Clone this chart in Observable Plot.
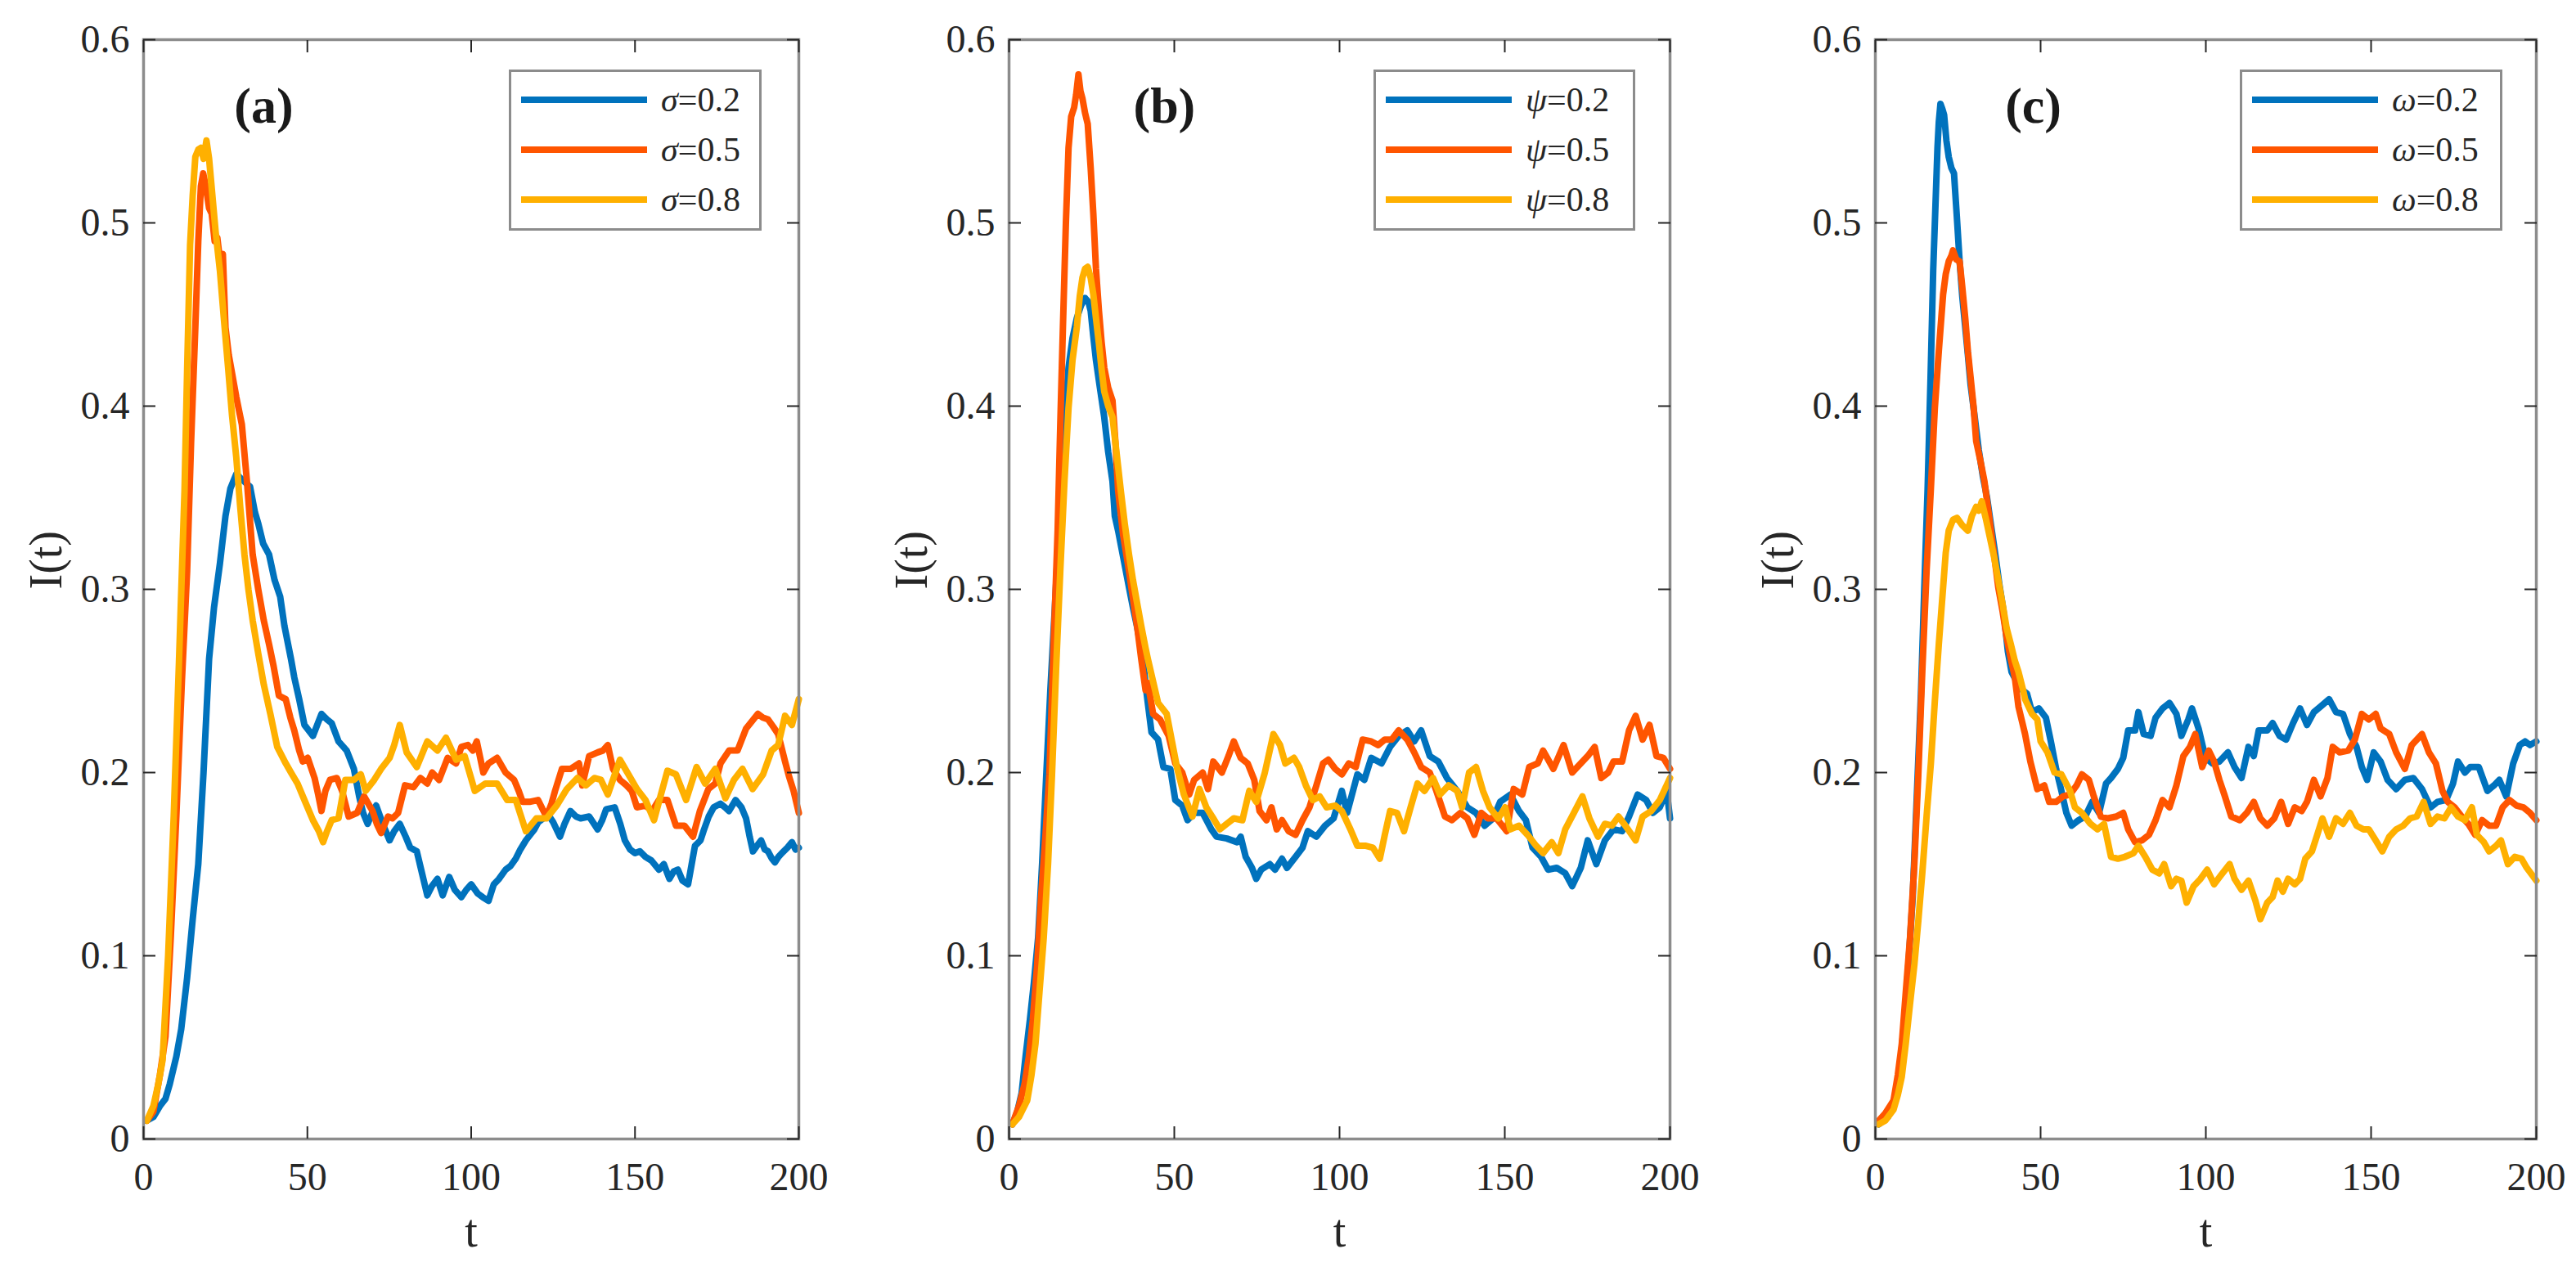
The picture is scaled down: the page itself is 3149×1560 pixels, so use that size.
<!DOCTYPE html>
<html>
<head>
<meta charset="utf-8">
<script src="https://cdn.jsdelivr.net/npm/d3@7"></script>
<script src="https://cdn.jsdelivr.net/npm/@observablehq/plot@0.6"></script>
<style>
  html, body { margin: 0; padding: 0; background: #fff; overflow: hidden; }
  #wrap { position: relative; width: 3149px; height: 1560px; }
  .panel { position: absolute; top: 0; }
  .legend { position: absolute; box-sizing: border-box; border: 3px solid #8c8c8c; background: #fff; }
  .legend svg { display: block; }
</style>
</head>
<body>
<div id="wrap"></div>
<script>
// ---------- tick labels / categories ----------
const xTicks = [0, 50, 100, 150, 200];
const yTicks = [0, 0.1, 0.2, 0.3, 0.4, 0.5, 0.6];
const panelLabels = ["(a)", "(b)", "(c)"];
const paramSymbols = ["σ", "ψ", "ω"];
const paramValues = ["0.2", "0.5", "0.8"];
const seriesColors = ["#0072BD", "#FF5500", "#FFB000"];
const panelLabelT = [36.7, 47.0, 47.8];   // label anchor (t) per panel
const panelLabelI = 0.5545;               // label baseline (I)

// ---------- data: [t, I(t)] ----------
const aBlue = [[1,0.010],[3,0.012],[5,0.018],[6.7,0.022],[8,0.03],[10,0.045],[11.5,0.06],[13.3,0.088],[15,0.12],[16.7,0.15],[18.3,0.2],[20,0.262],[21.5,0.29],[23.3,0.314],[25,0.34],[26.5,0.355],[28.3,0.363],[30,0.36],[32.5,0.356],[34,0.342],[35,0.336],[36.5,0.325],[38.3,0.319],[40,0.305],[41.7,0.296],[43,0.28],[45,0.262],[46,0.252],[47.5,0.24],[49.1,0.226],[51.7,0.220],[54.3,0.232],[56,0.229],[57.4,0.227],[59.5,0.217],[62,0.212],[64.2,0.202],[65.8,0.187],[67,0.178],[68.4,0.172],[70,0.179],[71,0.182],[73,0.172],[75.1,0.163],[76.5,0.168],[78.2,0.172],[80,0.165],[81.4,0.159],[83.4,0.157],[85,0.145],[86.6,0.133],[88,0.138],[89.7,0.142],[91.3,0.133],[93.3,0.143],[95,0.136],[97,0.132],[98.5,0.136],[100,0.139],[102,0.134],[103.5,0.132],[105.3,0.130],[106.9,0.139],[108.5,0.142],[110.5,0.147],[112,0.149],[113.6,0.153],[115,0.158],[116.7,0.163],[118,0.166],[119.3,0.169],[120.5,0.173],[122,0.175],[123.5,0.177],[125,0.173],[127.1,0.165],[128.5,0.172],[130.3,0.179],[132,0.176],[133.4,0.175],[136,0.176],[137.5,0.172],[138.6,0.169],[140,0.174],[141.2,0.180],[143.8,0.181],[145.5,0.172],[146.9,0.163],[148.5,0.158],[150,0.156],[151.5,0.157],[153.2,0.154],[155,0.152],[157.3,0.147],[158.8,0.150],[160.5,0.142],[161.8,0.146],[163.1,0.147],[164.5,0.141],[166.2,0.139],[167.3,0.150],[168.3,0.160],[170,0.163],[170.9,0.168],[172.5,0.176],[174,0.181],[176.1,0.183],[177.5,0.181],[178.7,0.179],[180.7,0.185],[182.5,0.181],[183.9,0.175],[185,0.165],[186,0.157],[187.2,0.160],[188.5,0.163],[189.6,0.158],[190.6,0.157],[191.8,0.153],[192.7,0.151],[193.8,0.154],[194.8,0.156],[196.5,0.159],[197.9,0.162],[199,0.158],[200,0.159]];
const aOrange = [[1,0.010],[3,0.015],[5,0.035],[6.7,0.056],[8.3,0.11],[10,0.176],[11.7,0.25],[13.3,0.31],[14.5,0.38],[15.8,0.443],[16.7,0.49],[17.5,0.52],[18.2,0.527],[19,0.52],[20,0.508],[20.8,0.505],[21.7,0.49],[22.5,0.492],[23.3,0.48],[24.2,0.483],[25,0.443],[26,0.428],[26.7,0.421],[28.3,0.405],[30,0.39],[31.5,0.36],[33.3,0.319],[35,0.3],[36.7,0.283],[38.3,0.27],[39.7,0.258],[41.3,0.242],[43.4,0.240],[44.8,0.23],[46,0.223],[47.5,0.212],[48.6,0.206],[50.1,0.208],[52.2,0.197],[53.3,0.188],[54.3,0.179],[55.5,0.19],[56.9,0.196],[59,0.197],[60.6,0.190],[62.6,0.176],[65.2,0.178],[67.3,0.187],[69.9,0.179],[71.2,0.172],[72.5,0.167],[74.6,0.176],[76,0.175],[77.7,0.178],[79.8,0.193],[82.4,0.192],[84.5,0.197],[86.6,0.194],[88.1,0.200],[90.2,0.196],[92.8,0.208],[95.4,0.205],[97,0.214],[99,0.215],[100.5,0.212],[101.7,0.217],[103.7,0.200],[105.3,0.205],[107.9,0.208],[110.5,0.200],[113.1,0.196],[114.5,0.19],[115.7,0.184],[117.8,0.184],[120.4,0.185],[121.8,0.18],[123,0.176],[124.5,0.183],[125.6,0.190],[127.7,0.202],[130.3,0.202],[132.9,0.205],[133.9,0.193],[136,0.209],[138.6,0.211],[140.2,0.212],[141.7,0.215],[143.3,0.202],[145.4,0.196],[147.4,0.193],[149,0.19],[150.6,0.181],[153.2,0.182],[155.2,0.179],[157.3,0.185],[159.9,0.185],[161.2,0.178],[162.5,0.171],[165.1,0.171],[167.7,0.165],[169.8,0.179],[172.4,0.191],[174.5,0.194],[176.1,0.205],[178.7,0.212],[181.3,0.212],[183.9,0.224],[185.7,0.228],[187.5,0.232],[189,0.230],[190.6,0.229],[192.2,0.225],[193.7,0.221],[195.8,0.206],[197,0.198],[198.4,0.190],[200,0.178]];
const aYellow = [[1,0.010],[3,0.018],[4.5,0.03],[5.8,0.043],[7.5,0.1],[9.2,0.176],[10.8,0.26],[12.5,0.354],[13.3,0.42],[14.2,0.488],[15,0.515],[15.8,0.536],[16.7,0.54],[17.5,0.541],[18.3,0.535],[19.2,0.545],[20,0.535],[20.8,0.519],[22,0.495],[23.3,0.474],[24.5,0.448],[25.8,0.421],[27,0.395],[28.3,0.372],[29.5,0.345],[30.8,0.319],[32,0.3],[33.3,0.283],[35,0.265],[36.7,0.248],[38.7,0.232],[40.8,0.214],[43.4,0.205],[45,0.200],[47,0.194],[49.1,0.185],[51.7,0.174],[53.5,0.168],[54.8,0.162],[56,0.168],[57.4,0.174],[59.5,0.175],[61.6,0.196],[64.2,0.196],[66.3,0.199],[67.8,0.190],[70.4,0.196],[72.5,0.202],[75.1,0.208],[76.5,0.215],[78.2,0.226],[80.3,0.211],[83.4,0.203],[86.6,0.217],[89.7,0.212],[92.3,0.219],[95.4,0.207],[98,0.209],[101.1,0.190],[104.3,0.194],[107.9,0.194],[111,0.185],[113.6,0.185],[116.7,0.168],[119.9,0.175],[123,0.175],[126.1,0.182],[129.2,0.191],[132.4,0.197],[135,0.193],[137.6,0.197],[139.6,0.196],[141.7,0.188],[145.4,0.207],[148,0.199],[150.6,0.191],[153.2,0.185],[155.8,0.174],[157.3,0.184],[159.9,0.201],[162.5,0.199],[165.6,0.185],[168.8,0.203],[171.4,0.194],[174.5,0.202],[177.6,0.186],[180.2,0.196],[182.8,0.202],[185.9,0.191],[189.1,0.199],[191.7,0.212],[193.7,0.215],[195.8,0.231],[197.9,0.226],[200,0.240]];

const bBlue = [[1,0.008],[2.5,0.015],[3.8,0.025],[5,0.045],[6.3,0.065],[7.5,0.085],[8.8,0.11],[10,0.15],[11.3,0.2],[12.5,0.245],[13.8,0.288],[15,0.33],[16.3,0.372],[17.2,0.4],[18,0.421],[19.2,0.437],[20.5,0.448],[21.8,0.455],[23,0.459],[24,0.457],[24.7,0.452],[25.5,0.438],[26.3,0.425],[27.5,0.41],[28.8,0.394],[30,0.375],[31.3,0.359],[32,0.34],[33,0.332],[34.5,0.318],[36.3,0.301],[37.5,0.29],[38.8,0.279],[40.5,0.262],[41.5,0.245],[43.1,0.222],[45.1,0.218],[46.7,0.203],[48.8,0.202],[50.3,0.185],[52.4,0.182],[54,0.174],[56.1,0.178],[58.6,0.178],[61.2,0.169],[62.8,0.165],[65.9,0.164],[69,0.162],[70.1,0.165],[71.6,0.154],[73.5,0.148],[74.8,0.142],[76.3,0.147],[78.9,0.150],[80.5,0.147],[82.6,0.153],[84.1,0.148],[86.7,0.154],[88.8,0.159],[90.4,0.168],[93,0.165],[95.6,0.171],[98.2,0.175],[100.7,0.190],[102.3,0.178],[105.4,0.199],[107.5,0.196],[109.6,0.208],[112.7,0.205],[115.3,0.214],[117.9,0.220],[120.5,0.223],[122.6,0.217],[124.7,0.223],[127.3,0.209],[129.9,0.206],[132.5,0.197],[135.6,0.190],[138.7,0.181],[141.3,0.178],[143.9,0.171],[146.5,0.175],[148.6,0.184],[151.7,0.188],[154.3,0.179],[156.4,0.174],[158.4,0.159],[161,0.154],[163.1,0.147],[165.7,0.148],[168.3,0.145],[170.4,0.138],[173,0.148],[175.1,0.163],[177.7,0.150],[180.3,0.163],[182.9,0.169],[185.5,0.168],[187.6,0.176],[190.2,0.188],[192.8,0.185],[194.8,0.178],[196.9,0.181],[199,0.190],[200,0.175]];
const bOrange = [[1,0.008],[3,0.018],[4.7,0.03],[6,0.045],[7.2,0.065],[8.5,0.095],[9.7,0.132],[11,0.165],[12.2,0.199],[13.5,0.27],[14.7,0.332],[15.5,0.39],[16.3,0.443],[17.2,0.5],[18,0.541],[18.8,0.558],[19.7,0.563],[20.3,0.57],[21,0.581],[21.6,0.572],[22.2,0.568],[23,0.56],[23.8,0.554],[24.7,0.53],[25.5,0.505],[26.3,0.475],[27.2,0.452],[28,0.435],[28.8,0.421],[30,0.41],[31.3,0.403],[32.2,0.38],[33,0.354],[34.5,0.33],[36.3,0.31],[37.5,0.295],[38.8,0.279],[40,0.262],[41.3,0.245],[42,0.249],[43.6,0.232],[45.7,0.229],[48.3,0.220],[50.3,0.205],[52.4,0.200],[54.5,0.188],[56,0.196],[58.6,0.200],[60.2,0.191],[61.8,0.206],[64.4,0.200],[66.4,0.209],[68,0.217],[70.1,0.208],[72.2,0.205],[74.2,0.196],[75.8,0.179],[77.9,0.174],[79.4,0.181],[81,0.169],[82.6,0.174],[84.6,0.168],[86.7,0.166],[88.8,0.174],[90.9,0.181],[93,0.193],[95,0.205],[96.6,0.207],[98.7,0.202],[100.7,0.199],[102.8,0.205],[104.9,0.203],[107,0.218],[109.6,0.217],[111.7,0.215],[113.7,0.218],[115.8,0.218],[117.9,0.223],[120.5,0.218],[122.6,0.211],[124.7,0.203],[127.3,0.200],[129.3,0.190],[131.9,0.176],[134,0.174],[136.6,0.178],[138.7,0.175],[140.8,0.166],[142.9,0.178],[144.9,0.175],[147.5,0.175],[150.6,0.168],[152.7,0.191],[155.3,0.188],[157.4,0.203],[160,0.205],[161.6,0.212],[164.7,0.202],[167.8,0.215],[170.4,0.200],[173,0.205],[175.1,0.209],[177.2,0.214],[179.2,0.197],[181.3,0.200],[182.9,0.206],[185.5,0.206],[187.6,0.223],[189.6,0.231],[191.7,0.218],[193.8,0.226],[195.9,0.209],[198,0.208],[200,0.202]];
const bYellow = [[1,0.008],[3,0.012],[5.5,0.021],[6.8,0.035],[8,0.052],[9.2,0.08],[10.5,0.11],[11.8,0.15],[13,0.199],[14.2,0.255],[15.5,0.31],[16.8,0.36],[18,0.399],[19.2,0.425],[20.5,0.443],[21.4,0.46],[22.2,0.47],[23,0.475],[23.8,0.476],[24.7,0.47],[25.5,0.461],[26.3,0.448],[27.2,0.434],[28,0.42],[28.8,0.408],[30,0.4],[31.3,0.394],[32.5,0.375],[33.8,0.354],[35,0.336],[36.3,0.319],[37.5,0.305],[38.8,0.292],[40,0.28],[41.3,0.268],[42,0.262],[43.8,0.248],[45.1,0.238],[47.7,0.232],[49.3,0.217],[50.9,0.202],[52.9,0.188],[55.5,0.176],[57.6,0.191],[59.7,0.181],[61.8,0.175],[63.8,0.169],[65.9,0.172],[68,0.175],[70.6,0.174],[72.7,0.190],[74.8,0.184],[77.4,0.200],[80,0.221],[82,0.215],[83.6,0.205],[86.2,0.208],[87.8,0.203],[89.8,0.193],[91.9,0.185],[94,0.187],[96.1,0.181],[98.7,0.182],[100.7,0.179],[103.3,0.169],[105.4,0.160],[108,0.160],[110.1,0.159],[112.2,0.153],[113.7,0.166],[115.3,0.179],[117.4,0.178],[119.5,0.168],[121.5,0.181],[123.6,0.194],[125.7,0.190],[128.3,0.197],[130.4,0.188],[133,0.193],[135.6,0.190],[137.1,0.181],[139.2,0.200],[141.3,0.203],[143.4,0.190],[145.4,0.181],[148,0.175],[150.1,0.181],[151.7,0.169],[154.3,0.171],[156.9,0.166],[159.5,0.160],[161.6,0.156],[164.2,0.162],[166.2,0.156],[168.3,0.169],[170.9,0.178],[173.5,0.187],[175.6,0.175],[178.2,0.165],[180.3,0.172],[182.4,0.171],[184.4,0.176],[186.5,0.171],[189.6,0.163],[191.7,0.176],[194.3,0.179],[196.9,0.185],[200,0.197]];

const cBlue = [[1,0.008],[3.8,0.012],[6.3,0.025],[7.5,0.04],[8.8,0.065],[10,0.095],[11.3,0.132],[12.5,0.185],[13.8,0.243],[14.8,0.3],[15.8,0.354],[16.7,0.415],[17.5,0.474],[18.2,0.51],[18.8,0.541],[19.2,0.555],[19.7,0.565],[20.3,0.562],[20.8,0.559],[21.5,0.545],[22.2,0.536],[23,0.53],[23.8,0.527],[24.6,0.505],[25.5,0.479],[26.3,0.46],[27.2,0.443],[28,0.428],[28.8,0.412],[30,0.395],[31.3,0.376],[32.5,0.362],[33.8,0.35],[35,0.335],[36.3,0.319],[37.5,0.303],[38.8,0.288],[40.1,0.266],[41.2,0.255],[43.8,0.246],[45.9,0.243],[47.4,0.233],[49.5,0.235],[51.6,0.230],[53.1,0.217],[54.7,0.202],[56.3,0.190],[57.8,0.178],[59.4,0.171],[61.5,0.174],[63.5,0.176],[65.6,0.184],[67.7,0.178],[69.8,0.194],[71.3,0.197],[73.4,0.202],[75,0.208],[76.5,0.223],[78.6,0.223],[79.6,0.233],[81.2,0.221],[83.3,0.220],[84.8,0.230],[86.9,0.235],[89,0.238],[91.1,0.232],[92.6,0.220],[94.7,0.229],[95.8,0.235],[97.8,0.224],[99.9,0.208],[102,0.205],[104.1,0.206],[106.7,0.211],[108.7,0.203],[110.8,0.197],[112.9,0.214],[114.5,0.209],[116,0.223],[118.6,0.223],[120.2,0.227],[122.3,0.220],[124.3,0.218],[126.4,0.227],[128.5,0.235],[130.6,0.226],[132.7,0.233],[134.7,0.236],[137.3,0.240],[139.4,0.233],[141.5,0.232],[143.6,0.221],[145.6,0.214],[147.2,0.203],[148.8,0.196],[150.8,0.211],[152.9,0.206],[155,0.196],[157.6,0.191],[160.2,0.196],[162.8,0.197],[165.4,0.191],[168,0.181],[170.1,0.184],[172.7,0.185],[174.8,0.194],[176.3,0.206],[178.4,0.200],[180,0.203],[182.6,0.203],[185.2,0.190],[187.2,0.193],[188.8,0.196],[190.9,0.187],[193,0.205],[195,0.215],[196.6,0.217],[198.1,0.215],[200,0.217]];
const cOrange = [[1,0.010],[3,0.014],[5.5,0.021],[6.8,0.035],[8,0.052],[9.2,0.08],[10.5,0.11],[11.8,0.15],[13,0.199],[14.2,0.255],[15.5,0.31],[16.8,0.355],[18,0.399],[19.2,0.43],[20.5,0.461],[21.3,0.472],[22.2,0.479],[23,0.482],[23.5,0.485],[24.5,0.48],[25.5,0.479],[26.3,0.465],[27.2,0.448],[28,0.43],[28.8,0.416],[29.7,0.4],[30.5,0.381],[31.8,0.37],[33,0.359],[34.7,0.336],[36,0.318],[37.2,0.301],[38.5,0.288],[39.7,0.274],[41,0.262],[42.2,0.252],[43.3,0.236],[45.3,0.221],[46.9,0.206],[49,0.191],[51.1,0.193],[52.6,0.184],[54.7,0.184],[56.8,0.187],[58.9,0.188],[60.9,0.193],[62.5,0.199],[64.6,0.196],[66.1,0.187],[68.2,0.176],[70.3,0.175],[72.9,0.176],[75,0.178],[76.5,0.169],[78.6,0.162],[80.7,0.163],[82.8,0.166],[84.8,0.174],[86.9,0.185],[89,0.181],[91.1,0.193],[93.2,0.209],[95.2,0.214],[96.8,0.221],[98.9,0.203],[100.9,0.212],[102.5,0.206],[104.1,0.196],[105.6,0.188],[107.7,0.176],[110.3,0.174],[112.4,0.178],[114.5,0.184],[116.5,0.175],[118.6,0.171],[120.7,0.175],[122.8,0.184],[124.9,0.172],[126.9,0.181],[129,0.179],[130.6,0.184],[132.7,0.196],[134.7,0.187],[136.8,0.197],[138.4,0.214],[140.5,0.211],[143.1,0.212],[145.1,0.218],[147.2,0.232],[149.3,0.229],[151.4,0.232],[152.9,0.224],[155.5,0.221],[157.6,0.211],[160.2,0.202],[162.3,0.215],[165.4,0.221],[167.5,0.211],[169.6,0.205],[171.6,0.190],[173.2,0.184],[175.3,0.181],[177.4,0.176],[179.4,0.172],[181.5,0.166],[183.6,0.174],[185.7,0.171],[187.8,0.171],[189.8,0.181],[191.9,0.185],[194,0.182],[196.1,0.181],[198.1,0.178],[200,0.174]];
const cYellow = [[1,0.008],[3,0.01],[5.5,0.016],[6.8,0.024],[8,0.034],[9.2,0.052],[10.5,0.074],[11.8,0.095],[13,0.119],[14.2,0.145],[15.5,0.176],[16.8,0.205],[18,0.239],[19.2,0.27],[20.5,0.301],[21.3,0.32],[22.2,0.332],[23.5,0.338],[24.7,0.339],[26.3,0.335],[28,0.332],[29.2,0.34],[30.5,0.345],[31.3,0.343],[32.2,0.348],[33.5,0.338],[34.7,0.328],[36,0.317],[37.2,0.305],[38.5,0.292],[39.7,0.279],[41,0.27],[42.2,0.261],[43.3,0.255],[44.7,0.245],[45.3,0.24],[47.4,0.232],[49,0.229],[50,0.217],[52.1,0.211],[54.2,0.200],[56.3,0.199],[58.9,0.190],[60.4,0.181],[62.5,0.178],[65.1,0.172],[67.2,0.169],[69.2,0.172],[71.3,0.154],[73.4,0.153],[75.5,0.154],[78.1,0.156],[79.6,0.160],[81.7,0.154],[83.8,0.147],[85.9,0.145],[87.4,0.150],[89.5,0.138],[91.1,0.142],[92.6,0.141],[94.2,0.129],[96.3,0.138],[98.4,0.142],[100.4,0.147],[102.5,0.139],[104.6,0.144],[107.2,0.150],[108.7,0.142],[110.8,0.136],[112.9,0.141],[115,0.130],[116.5,0.120],[118.6,0.129],[120.2,0.132],[121.7,0.141],[123.3,0.135],[124.9,0.142],[126.9,0.139],[128.5,0.142],[130.1,0.153],[132.1,0.157],[133.7,0.166],[135.3,0.175],[137.3,0.165],[139.4,0.175],[141.5,0.172],[143.6,0.178],[145.6,0.171],[147.7,0.169],[149.3,0.169],[151.4,0.163],[153.4,0.157],[155.5,0.165],[157.6,0.169],[159.7,0.171],[161.8,0.175],[163.8,0.176],[165.9,0.184],[168,0.172],[170.1,0.176],[172.2,0.175],[174.2,0.181],[176.3,0.176],[178.4,0.174],[180.5,0.181],[182,0.166],[184.1,0.162],[185.7,0.157],[187.8,0.160],[189.3,0.163],[191.4,0.150],[193.5,0.154],[195.5,0.153],[197.1,0.148],[200,0.141]];

const panelSeries = [[aBlue, aOrange, aYellow], [bBlue, bOrange, bYellow], [cBlue, cOrange, cYellow]];

// ---------- font: pick an installed Times-like serif ----------
function pickSerif() {
  const cands = ["Liberation Serif", "Tinos", "Times New Roman", "Times", "Nimbus Roman", "Nimbus Roman No9 L", "FreeSerif", "Noto Serif", "DejaVu Serif"];
  const ctx = document.createElement("canvas").getContext("2d");
  const sample = "0.123456789 I(t) abcxyz σψω";
  const w = f => { ctx.font = "48px " + f; return ctx.measureText(sample).width; };
  const mono = w("monospace"), sans = w("sans-serif");
  for (const c of cands) {
    if (w(`"${c}", monospace`) !== mono && w(`"${c}", sans-serif`) !== sans) return `"${c}", serif`;
  }
  return "serif";
}
const FONT = pickSerif();
const TXT = "#262626";

// ---------- layout ----------
const layout = [
  {left: 0,    ml: 175, mr: 73, legLeft: 622,  legW: 309},
  {left: 1050, ml: 183, mr: 58, legLeft: 1679, legW: 320},
  {left: 2100, ml: 192, mr: 49, legLeft: 2738, legW: 321}
];
const wrap = document.getElementById("wrap");
wrap.style.fontFamily = FONT;

layout.forEach((L, i) => {
  const marks = [];
  panelSeries[i].forEach((s, j) => {
    marks.push(Plot.line(s, {x: d => d[0], y: d => d[1], stroke: seriesColors[j], strokeWidth: 8, strokeLinejoin: "round", strokeLinecap: "round"}));
  });
  marks.push(Plot.frame({stroke: "#8c8c8c", strokeWidth: 3.5}));
  const tk = {tickSize: 15, stroke: TXT, strokeWidth: 2, fill: "none", label: null};
  marks.push(Plot.axisX({...tk, ticks: xTicks, anchor: "bottom", dy: -15}));
  marks.push(Plot.axisX({...tk, ticks: xTicks, anchor: "top", dy: 15}));
  marks.push(Plot.axisY({...tk, ticks: yTicks, anchor: "left", dx: 15}));
  marks.push(Plot.axisY({...tk, ticks: yTicks, anchor: "right", dx: -15}));
  marks.push(Plot.axisX({ticks: xTicks, anchor: "bottom", tickSize: 0, tickPadding: 28, fontSize: 48, fontFamily: FONT, fill: TXT, label: null, tickFormat: d => String(d)}));
  marks.push(Plot.axisY({ticks: yTicks, anchor: "left", tickSize: 0, tickPadding: 17, fontSize: 48, fontFamily: FONT, fill: TXT, label: null, tickFormat: d => d === 0 ? "0" : d.toFixed(1)}));
  marks.push(Plot.text(["t"], {text: d => d, frameAnchor: "bottom", lineAnchor: "bottom", dy: 131, fontSize: 56, fontFamily: FONT, fill: TXT}));
  marks.push(Plot.text(["I(t)"], {text: d => d, frameAnchor: "left", dx: -118, rotate: -90, lineAnchor: "middle", fontSize: 56, fontFamily: FONT, fill: TXT}));
  marks.push(Plot.text([panelLabels[i]], {text: d => d, x: panelLabelT[i], y: panelLabelI, lineAnchor: "bottom", fontSize: 62, fontWeight: "bold", fontFamily: FONT, fill: "#1a1a1a"}));

  const svg = Plot.plot({
    width: 1049, height: 1560,
    marginLeft: L.ml, marginRight: L.mr, marginTop: 48, marginBottom: 168,
    x: {domain: [0, 200]},
    y: {domain: [0, 0.6]},
    style: {fontFamily: FONT, background: "transparent", overflow: "visible"},
    marks
  });
  const div = document.createElement("div");
  div.className = "panel";
  div.style.left = L.left + "px";
  div.appendChild(svg);
  wrap.appendChild(div);

  // legend box (inside axes, top right)
  const lg = d3.select(wrap).append("div").attr("class", "legend")
    .style("left", L.legLeft + "px").style("top", "85px")
    .style("width", L.legW + "px").style("height", "197px");
  const ls = lg.append("svg").attr("width", L.legW - 6).attr("height", 191);
  paramValues.forEach((v, j) => {
    const yy = 34 + j * 61;
    ls.append("line").attr("x1", 12).attr("x2", 166).attr("y1", yy).attr("y2", yy)
      .attr("stroke", seriesColors[j]).attr("stroke-width", 8);
    const t = ls.append("text").attr("x", 183).attr("y", yy).attr("dominant-baseline", "central")
      .style("font-family", FONT).attr("font-size", 42).attr("fill", TXT);
    t.append("tspan").attr("font-style", "italic").text(paramSymbols[i]);
    t.append("tspan").text("=" + v);
  });
});
</script>
</body>
</html>
